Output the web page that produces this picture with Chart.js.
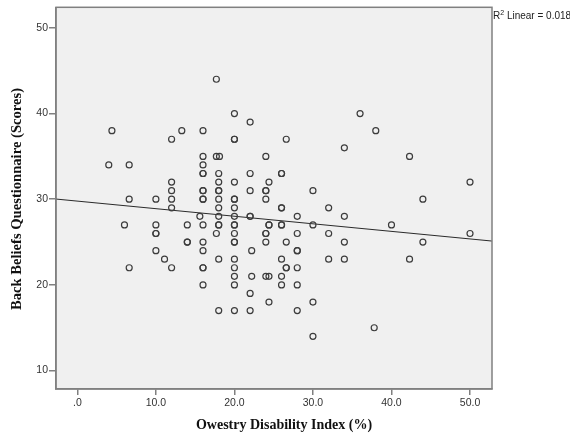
<!DOCTYPE html>
<html>
<head>
<meta charset="utf-8">
<script src="https://cdn.jsdelivr.net/npm/chart.js@4/dist/chart.umd.min.js"></script>
<style>
  html, body { margin: 0; padding: 0; background: #ffffff; }
  #wrap { width: 570px; height: 434px; }
</style>
</head>
<body>
<div id="wrap"><canvas id="c" width="570" height="434"></canvas></div>
<script>
// Owestry Disability Index (%) for each subject
const odi = [
  4.4, 4.0, 6.6, 6.6, 6.0, 6.6,
  10, 10, 10, 10, 10, 11.1,
  12, 12, 12, 12, 12, 12, 13.3,
  14, 14, 14, 15.6,
  16, 16, 16, 16, 16, 16, 16, 16, 16, 16, 16, 16, 16, 16, 16,
  17.7, 17.7, 17.7, 18.1,
  18, 18, 18, 18, 18, 18, 18, 18, 18, 18, 18,
  20, 20, 20, 20, 20, 20, 20, 20, 20, 20, 20, 20, 20, 20, 20, 20, 20, 20,
  22, 22, 22, 22, 22, 22, 22, 22.2, 22.2,
  24, 24, 24, 24, 24, 24, 24, 24,
  24.4, 24.4, 24.4, 24.4, 24.4,
  26, 26, 26, 26, 26, 26, 26, 26, 26,
  26.6, 26.6, 26.6, 26.6,
  28, 28, 28, 28, 28, 28, 28,
  30, 30, 30, 30,
  32, 32, 32,
  34, 34, 34, 34,
  36, 37.8, 38, 40,
  42.3, 42.3, 44, 44, 50, 50
];
// Back Beliefs Questionnaire score for each subject
const bbq = [
  38, 34, 34, 30, 27, 22,
  30, 27, 26, 26, 24, 23,
  37, 32, 31, 30, 29, 22, 38,
  27, 25, 25, 28,
  38, 35, 34, 33, 33, 31, 31, 30, 30, 27, 25, 24, 22, 22, 20,
  44, 35, 26, 35,
  33, 32, 31, 31, 30, 29, 28, 27, 27, 23, 17,
  40, 37, 37, 32, 30, 30, 29, 28, 27, 27, 26, 25, 25, 23, 22, 21, 20, 17,
  39, 33, 31, 28, 28, 19, 17, 24, 21,
  35, 31, 31, 30, 26, 26, 25, 21,
  32, 27, 27, 21, 18,
  33, 33, 29, 29, 27, 27, 23, 21, 20,
  37, 25, 22, 22,
  28, 26, 24, 24, 22, 20, 17,
  31, 27, 18, 14,
  29, 26, 23,
  36, 28, 25, 23,
  40, 15, 38, 27,
  35, 23, 30, 25, 32, 26
];

// Fit line: BBQ = intercept + slope * ODI
const fitIntercept = 29.78;
const fitSlope = -0.0883;
const fitLabel = 'Linear = 0.018';

const xTicks = [0, 10, 20, 30, 40, 50];
const xTickLabels = ['.0', '10.0', '20.0', '30.0', '40.0', '50.0'];
const yTicks = [10, 20, 30, 40, 50];
const yTickLabels = ['10', '20', '30', '40', '50'];

const xTitle = 'Owestry Disability Index (%)';
const yTitle = 'Back Beliefs Questionnaire (Scores)';

const X_MIN = -2.72, X_MAX = 52.8;
const Y_MIN = 7.85, Y_MAX = 52.4;

const points = odi.map((v, i) => ({ x: v, y: bbq[i] }));
const fitLine = [X_MIN, X_MAX].map(x => ({ x: x, y: fitIntercept + fitSlope * x }));

const frameColor = '#808080';
const tickFont = { family: 'Liberation Sans', size: 10.5 };

const decor = {
  id: 'decor',
  beforeDraw(chart) {
    const ctx = chart.ctx, a = chart.chartArea;
    ctx.save();
    ctx.fillStyle = '#ffffff';
    ctx.fillRect(0, 0, chart.width, chart.height);
    ctx.fillStyle = '#f0f0f0';
    ctx.fillRect(a.left, a.top, a.right - a.left, a.bottom - a.top);
    ctx.restore();
  },
  afterDraw(chart) {
    const ctx = chart.ctx, a = chart.chartArea;
    ctx.save();
    ctx.strokeStyle = frameColor;
    ctx.lineWidth = 1.5;
    ctx.strokeRect(a.left, a.top, a.right - a.left, a.bottom - a.top);

    // axis titles
    ctx.fillStyle = '#111';
    ctx.textAlign = 'center';
    ctx.textBaseline = 'middle';
    ctx.font = 'bold 14px "Liberation Serif"';
    ctx.fillText(xTitle, 284, 425);
    ctx.save();
    ctx.translate(17, 199);
    ctx.rotate(-Math.PI / 2);
    ctx.font = 'bold 14.6px "Liberation Serif"';
    ctx.fillText(yTitle, 0, 0);
    ctx.restore();

    // R² label
    ctx.fillStyle = '#222';
    ctx.textAlign = 'left';
    ctx.textBaseline = 'alphabetic';
    let x = a.right + 1;
    const base = 19;
    ctx.font = '10px "Liberation Sans"';
    ctx.fillText('R', x, base);
    x += ctx.measureText('R').width;
    ctx.font = '7px "Liberation Sans"';
    ctx.fillText('2', x, base - 4);
    x += ctx.measureText('2').width;
    ctx.font = '10px "Liberation Sans"';
    ctx.fillText(' ' + fitLabel, x, base);
    ctx.restore();
  }
};

new Chart(document.getElementById('c'), {
  type: 'scatter',
  data: {
    datasets: [
      {
        label: 'BBQ',
        data: points,
        pointStyle: 'circle',
        pointRadius: 3,
        pointBorderWidth: 1.2,
        borderColor: '#3c3c3c',
        backgroundColor: 'rgba(0,0,0,0)',
        pointBackgroundColor: 'rgba(0,0,0,0)',
        pointBorderColor: '#3c3c3c'
      },
      {
        type: 'line',
        label: 'Fit',
        data: fitLine,
        borderColor: '#2a2a2a',
        borderWidth: 1,
        pointRadius: 0,
        fill: false
      }
    ]
  },
  options: {
    responsive: false,
    animation: false,
    layout: { padding: { left: 0, right: 78, top: 7, bottom: 0 } },
    plugins: { legend: { display: false }, tooltip: { enabled: false } },
    scales: {
      x: {
        type: 'linear',
        min: X_MIN, max: X_MAX,
        afterBuildTicks(s) { s.ticks = xTicks.map(v => ({ value: v })); },
        afterFit(s) { s.height = 45; },
        ticks: {
          autoSkip: false, maxRotation: 0, padding: 2,
          font: tickFont, color: '#333',
          callback(v) { const i = xTicks.indexOf(v); return i >= 0 ? xTickLabels[i] : ''; }
        },
        grid: { display: true, drawOnChartArea: false, drawTicks: true, tickLength: 6, color: frameColor, lineWidth: 1.5 },
        border: { display: true, color: frameColor, width: 1.5 }
      },
      y: {
        type: 'linear',
        min: Y_MIN, max: Y_MAX,
        afterBuildTicks(s) { s.ticks = yTicks.map(v => ({ value: v })); },
        afterFit(s) { s.width = 56; },
        ticks: {
          autoSkip: false, padding: 1,
          font: tickFont, color: '#333',
          callback(v) { const i = yTicks.indexOf(v); return i >= 0 ? yTickLabels[i] : ''; }
        },
        grid: { display: true, drawOnChartArea: false, drawTicks: true, tickLength: 7, color: frameColor, lineWidth: 1.5 },
        border: { display: true, color: frameColor, width: 1.5 }
      }
    }
  },
  plugins: [decor]
});
</script>
</body>
</html>
